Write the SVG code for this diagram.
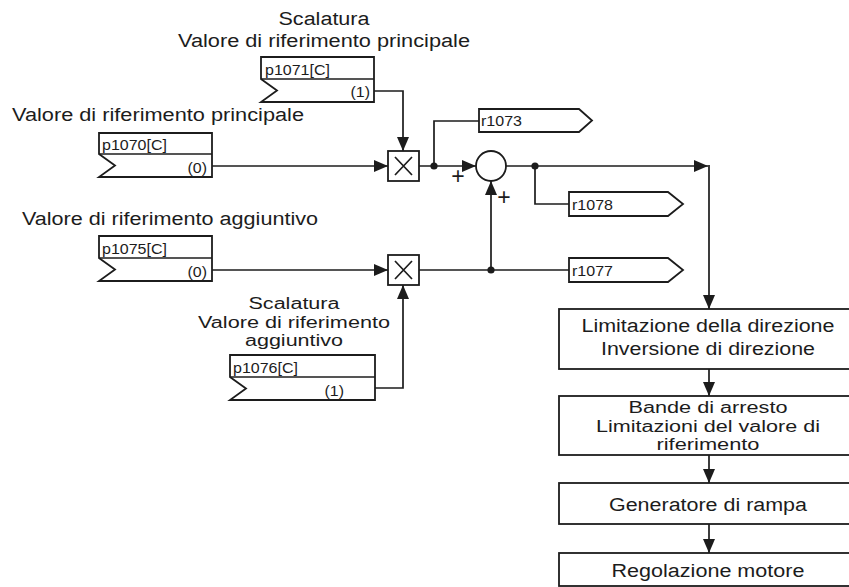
<svg xmlns="http://www.w3.org/2000/svg" width="849" height="587" viewBox="0 0 849 587">
  <style>
    .bg { fill: #ffffff; }
    .ln { fill: none; stroke: #1c1c1c; stroke-width: 1.7; }
    .box { fill: #ffffff; stroke: #1c1c1c; stroke-width: 1.8; }
    .dot { fill: #1c1c1c; }
    .t { font-family: "Liberation Sans", Arial, sans-serif; font-size: 18px; fill: #1c1c1c; }
    .tt { font-family: "Liberation Sans", Arial, sans-serif; font-size: 16px; fill: #1c1c1c; }
    .s { font-family: "Liberation Sans", Arial, sans-serif; font-size: 14px; fill: #1c1c1c; }
    .m { text-anchor: middle; }
    .e { text-anchor: end; }
    .pl { font-family: "Liberation Sans", Arial, sans-serif; font-size: 23px; fill: #1c1c1c; text-anchor: middle; }
  </style>
  <defs>
    <marker id="arr" markerUnits="userSpaceOnUse" markerWidth="14" markerHeight="12" viewBox="0 0 14 12" refX="14" refY="6" orient="auto">
      <path d="M0,0 L14,6 L0,12 Z" fill="#1c1c1c"/>
    </marker>
  </defs>

  <rect class="bg" x="0" y="0" width="849" height="587"/>

  <!-- connectors -->
  <g id="connectors">
    <path class="ln" d="M374,91 H403 V151" marker-end="url(#arr)"/>
    <path class="ln" d="M212,166 H388" marker-end="url(#arr)"/>
    <path class="ln" d="M419,166 H476" marker-end="url(#arr)"/>
    <path class="ln" d="M434,166 V121 H479"/>
    <path class="ln" d="M506,166 H708" marker-end="url(#arr)"/>
    <path class="ln" d="M535,166 V204 H569"/>
    <path class="ln" d="M709,165 V309" marker-end="url(#arr)"/>
    <path class="ln" d="M212,270 H388" marker-end="url(#arr)"/>
    <path class="ln" d="M419,270 H569"/>
    <path class="ln" d="M491,270 V181" marker-end="url(#arr)"/>
    <path class="ln" d="M375,388 H403 V285" marker-end="url(#arr)"/>
    <path class="ln" d="M709,369 V396" marker-end="url(#arr)"/>
    <path class="ln" d="M709,455 V483" marker-end="url(#arr)"/>
    <path class="ln" d="M709,524 V553" marker-end="url(#arr)"/>
    <circle class="dot" cx="434" cy="166" r="3.6"/>
    <circle class="dot" cx="535" cy="166" r="3.6"/>
    <circle class="dot" cx="491" cy="270" r="3.6"/>
  </g>

  <!-- main setpoint scaling p1071 -->
  <g id="p1071">
    <text class="t m" x="324" y="25" textLength="91" lengthAdjust="spacingAndGlyphs">Scalatura</text>
    <text class="t m" x="324" y="47" textLength="292" lengthAdjust="spacingAndGlyphs">Valore di riferimento principale</text>
    <path class="box" d="M261,79 V57 H374 V102 H261 L277,90.5 Z"/>
    <line class="ln" x1="261" y1="79" x2="374" y2="79"/>
    <text class="s" x="265" y="74.5" textLength="65" lengthAdjust="spacingAndGlyphs">p1071[C]</text>
    <text class="s e" x="370" y="97" textLength="19.5" lengthAdjust="spacingAndGlyphs">(1)</text>
  </g>

  <!-- main setpoint p1070 -->
  <g id="p1070">
    <text class="t" x="12" y="121" textLength="292" lengthAdjust="spacingAndGlyphs">Valore di riferimento principale</text>
    <path class="box" d="M99,154 V133 H212 V177 H99 L115,165.5 Z"/>
    <line class="ln" x1="99" y1="154" x2="212" y2="154"/>
    <text class="s" x="102" y="150" textLength="65" lengthAdjust="spacingAndGlyphs">p1070[C]</text>
    <text class="s e" x="207" y="173" textLength="19.5" lengthAdjust="spacingAndGlyphs">(0)</text>
  </g>

  <!-- supplementary setpoint p1075 -->
  <g id="p1075">
    <text class="t" x="22" y="225" textLength="296" lengthAdjust="spacingAndGlyphs">Valore di riferimento aggiuntivo</text>
    <path class="box" d="M99,258 V236 H212 V281 H99 L115,269.5 Z"/>
    <line class="ln" x1="99" y1="258" x2="212" y2="258"/>
    <text class="s" x="102" y="254" textLength="65" lengthAdjust="spacingAndGlyphs">p1075[C]</text>
    <text class="s e" x="207" y="277" textLength="19.5" lengthAdjust="spacingAndGlyphs">(0)</text>
  </g>

  <!-- supplementary setpoint scaling p1076 -->
  <g id="p1076">
    <text class="tt m" x="294" y="309" textLength="91" lengthAdjust="spacingAndGlyphs">Scalatura</text>
    <text class="tt m" x="294" y="328" textLength="192" lengthAdjust="spacingAndGlyphs">Valore di riferimento</text>
    <text class="tt m" x="294" y="346" textLength="98" lengthAdjust="spacingAndGlyphs">aggiuntivo</text>
    <path class="box" d="M230,377 V355 H375 V400 H230 L246,388.5 Z"/>
    <line class="ln" x1="230" y1="377" x2="375" y2="377"/>
    <text class="s" x="233" y="373" textLength="65" lengthAdjust="spacingAndGlyphs">p1076[C]</text>
    <text class="s e" x="344" y="396" textLength="19.5" lengthAdjust="spacingAndGlyphs">(1)</text>
  </g>

  <!-- multipliers -->
  <g id="mul-main">
    <rect class="box" x="388" y="151" width="31" height="30"/>
    <path class="ln" d="M395,157 L412,175 M412,157 L395,175"/>
  </g>
  <g id="mul-supp">
    <rect class="box" x="388" y="255" width="31" height="30"/>
    <path class="ln" d="M395,261 L412,279 M412,261 L395,279"/>
  </g>

  <!-- summing point -->
  <g id="sum">
    <circle class="box" cx="491" cy="166" r="15"/>
    <text class="pl" x="458" y="184">+</text>
    <text class="pl" x="504" y="205">+</text>
  </g>

  <!-- output connectors -->
  <g id="r1073">
    <path class="box" d="M479,109 H579 L592,120.5 L579,132 H479 Z"/>
    <text class="s" x="481" y="126" textLength="41" lengthAdjust="spacingAndGlyphs">r1073</text>
  </g>
  <g id="r1078">
    <path class="box" d="M569,192 H668 L683,204 L668,216 H569 Z"/>
    <text class="s" x="572" y="209.5" textLength="41" lengthAdjust="spacingAndGlyphs">r1078</text>
  </g>
  <g id="r1077">
    <path class="box" d="M569,258 H668 L683,270 L668,282 H569 Z"/>
    <text class="s" x="572" y="275.5" textLength="41" lengthAdjust="spacingAndGlyphs">r1077</text>
  </g>

  <!-- processing chain -->
  <g id="direction">
    <rect class="box" x="559" y="309" width="300" height="60"/>
    <text class="t m" x="708" y="332" textLength="253" lengthAdjust="spacingAndGlyphs">Limitazione della direzione</text>
    <text class="t m" x="708" y="355" textLength="214" lengthAdjust="spacingAndGlyphs">Inversione di direzione</text>
  </g>
  <g id="bands">
    <rect class="box" x="559" y="396" width="300" height="59"/>
    <text class="tt m" x="708" y="413" textLength="159" lengthAdjust="spacingAndGlyphs">Bande di arresto</text>
    <text class="tt m" x="708" y="432" textLength="224" lengthAdjust="spacingAndGlyphs">Limitazioni del valore di</text>
    <text class="tt m" x="708" y="450" textLength="103" lengthAdjust="spacingAndGlyphs">riferimento</text>
  </g>
  <g id="ramp">
    <rect class="box" x="559" y="483" width="300" height="41"/>
    <text class="t m" x="708" y="511" textLength="198" lengthAdjust="spacingAndGlyphs">Generatore di rampa</text>
  </g>
  <g id="motor">
    <rect class="box" x="559" y="553" width="300" height="33"/>
    <text class="t m" x="708" y="577" textLength="193" lengthAdjust="spacingAndGlyphs">Regolazione motore</text>
  </g>
</svg>
